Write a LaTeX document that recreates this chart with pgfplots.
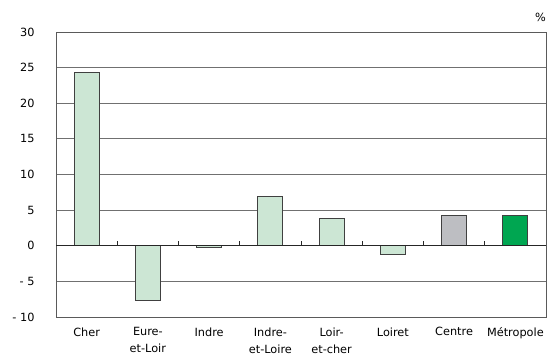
\documentclass[border=0pt]{standalone}
\usepackage{pgfplots}
\pgfplotsset{compat=1.18}
\usepackage{fontspec}
\setmainfont{DejaVu Sans}

\definecolor{barlight}{HTML}{CCE6D4}
\definecolor{barcentre}{HTML}{BDBEC2}
\definecolor{barfrance}{HTML}{00A651}
\definecolor{barline}{HTML}{404040}
\definecolor{gridc}{HTML}{707070}

\begin{document}
\begin{tikzpicture}
\begin{axis}[
  name=ax,
  scale only axis,
  width=490pt, height=285pt,
  xmin=-0.5, xmax=7.5,
  ymin=-10, ymax=30,
  ytick={-10,-5,0,5,10,15,20,25,30},
  yticklabels={- 10,- 5,0,5,10,15,20,25,30},
  xtick={0,...,7},
  xticklabels={Cher,Eure-\\et-Loir,Indre,Indre-\\et-Loire,Loir-\\et-cher,Loiret,Centre,Métropole},
  major tick length=0pt,
  ymajorgrids,
  grid style={gridc, line width=0.9pt},
  axis line style={gridc!80!black, line width=0.9pt},
  tick label style={font=\fontsize{11.3}{17}\selectfont},
  xticklabel style={align=center, anchor=north, yshift=-7pt},
  yticklabel style={anchor=east, xshift=-18pt},
  /pgf/number format/assume math mode=true,
  ybar, bar width=25pt, bar shift=0pt,
  clip=false,
]
\addplot[fill=barlight, draw=barline, line width=0.9pt] coordinates {
  (0,24.3) (1,-7.7) (2,-0.2) (3,6.9) (4,3.8) (5,-1.2)
};
\addplot[fill=barcentre, draw=barline, line width=0.9pt] coordinates {(6,4.3)};
\addplot[fill=barfrance, draw=barline, line width=0.9pt] coordinates {(7,4.3)};
% zero line and category separators
\draw[black!85, line width=0.9pt] (axis cs:-0.5,0) -- (axis cs:7.5,0);
\pgfplotsinvokeforeach{0.5,1.5,2.5,3.5,4.5,5.5,6.5}{
  \draw[black!85, line width=0.8pt] (axis cs:#1,0) -- ([yshift=5pt]axis cs:#1,0);
}
\node[anchor=south east, font=\fontsize{11.3}{13}\selectfont, inner sep=0pt]
  at ([yshift=10pt]rel axis cs:1,1) {\%};
\end{axis}
\pgfresetboundingbox
\path[use as bounding box] ([shift={(-56pt,-36pt)}]ax.south west)
  rectangle ([shift={(14pt,32pt)}]ax.north east);
\end{tikzpicture}
\end{document}
